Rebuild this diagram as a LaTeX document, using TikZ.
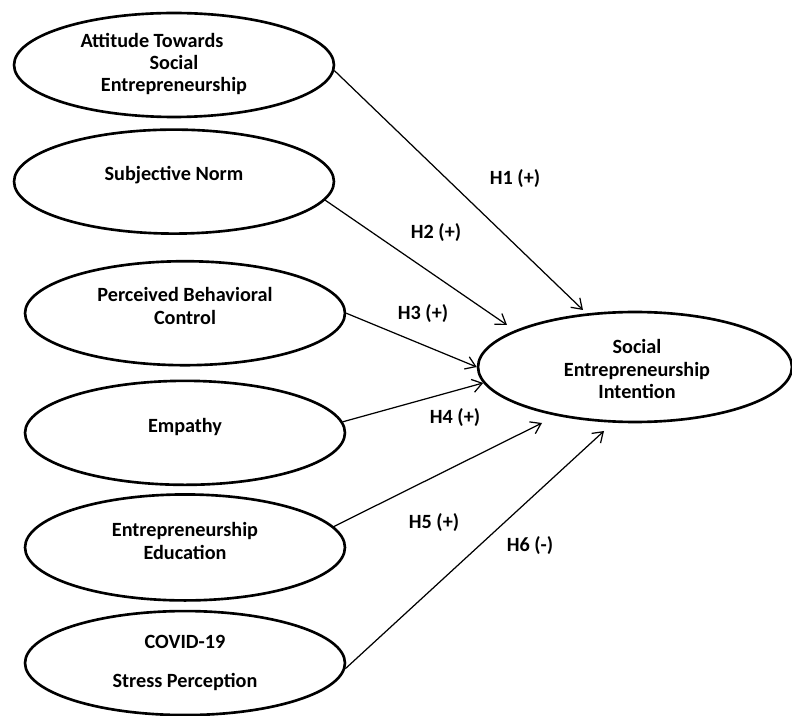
\documentclass[tikz,border=0pt]{standalone}
\usepackage{fontspec}
\setmainfont{Carlito}
\usepackage{tikz}
\usetikzlibrary{shapes,arrows.meta,positioning}

\begin{document}
\begin{tikzpicture}[x=0.02cm, y=-0.02cm, >={Straight Barb[length=5.5pt,width=7.5pt]},
    construct/.style={draw, ellipse, line width=1.5pt, minimum width=6.4cm, minimum height=2.08cm, inner sep=0pt},
    caption/.style={align=center, font=\bfseries\fontsize{11.5}{12.75}\selectfont},
    hyp/.style={font=\bfseries\fontsize{11.5}{13}\selectfont},
    effect/.style={->, line width=0.7pt}]
    \useasboundingbox (0,0) rectangle (792,716);

    % constructs on the left
    \node [construct] (att) at (174,65) {};
    \node [construct, below=0.2cm of att] (sn) {};
    \node [construct, below=0.5cm of sn, xshift=0.22cm] (pbc) {};
    \node [construct, below=0.26cm of pbc] (emp) {};
    \node [construct, minimum height=2.12cm, below=0.14cm of emp] (edu) {};
    \node [construct, below=0.16cm of edu] (cov) {};
    % outcome
    \node [construct, minimum width=6.28cm, minimum height=2.2cm] (sei) at (635,367) {};

    \node [caption] (att-txt) at (174,64) {Attitude Towards\hspace*{0.88cm}\\ Social\\ Entrepreneurship};
    \node [caption] (sn-txt) at (174,175) {Subjective Norm};
    \node [caption] (pbc-txt) at (185,306) {Perceived Behavioral\\ Control};
    \node [caption] (emp-txt) at (185,427) {Empathy};
    \node [caption] (edu-txt) at (185,541) {Entrepreneurship\\ Education};
    \node [caption] (cov-txt) at (185,663) {COVID-19\\[9pt] Stress Perception};
    \node [caption] (sei-txt) at (637,369) {Social\\ Entrepreneurship\\ Intention};

    \coordinate (h1tip) at (583,310);
    \coordinate (h2tip) at (507,325);
    \coordinate (h5tip) at (542,423);
    \coordinate (h6tip) at (604,431);

    \draw [effect] (att.-2) -- (h1tip);
    \draw [effect] (sn.-7) -- (h2tip);
    \draw [effect] (pbc.0) -- (sei.west);
    \draw [effect] (emp.4) -- (sei.186);
    \draw [effect] (edu.8) -- (h5tip);
    \draw [effect] (cov.-2) -- (h6tip);

    \node [hyp] (h1lbl) at (515,179) {H1 (+)};
    \node [hyp] (h2lbl) at (436,233) {H2 (+)};
    \node [hyp] (h3lbl) at (423,314) {H3 (+)};
    \node [hyp] (h4lbl) at (455,418) {H4 (+)};
    \node [hyp] (h5lbl) at (434,523) {H5 (+)};
    \node [hyp] (h6lbl) at (530,546) {H6 (-)};
\end{tikzpicture}
\end{document}
